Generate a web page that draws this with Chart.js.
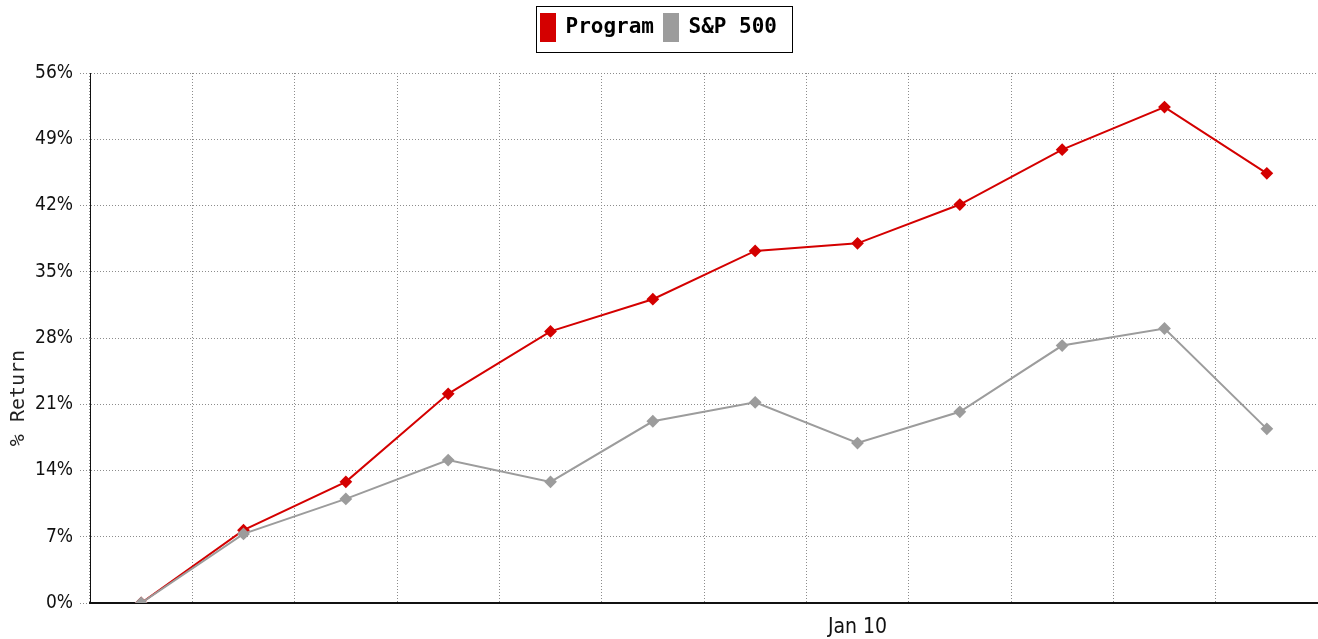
<!DOCTYPE html>
<html>
<head>
<meta charset="utf-8">
<title>Program vs S&amp;P 500</title>
<script src="https://cdn.jsdelivr.net/npm/chart.js@4/dist/chart.umd.min.js"></script>
<style>
    html, body { margin: 0; padding: 0; background: #fff; overflow: hidden; }
    #wrap { width: 1318px; height: 639px; position: relative; }
    canvas { display: block; }
</style>
</head>
<body>
<div id="wrap"><canvas id="returnChart"></canvas></div>
<script>
// Monthly cumulative return, Jun 09 .. May 10
const months = ['Jun 09', 'Jul 09', 'Aug 09', 'Sep 09', 'Oct 09', 'Nov 09',
                'Dec 09', 'Jan 10', 'Feb 10', 'Mar 10', 'Apr 10', 'May 10'];
const programReturn = [0, 7.7, 12.8, 22.1, 28.7, 32.1, 37.2, 38.0, 42.1, 47.9, 52.4, 45.4];
const sp500Return = [0, 7.3, 11.0, 15.1, 12.8, 19.2, 21.2, 16.9, 20.2, 27.2, 29.0, 18.4];
const yTicks = [0, 7, 14, 21, 28, 35, 42, 49, 56];

const RED = '#d40000';
const GREY = '#9c9c9c';
const GRID = '#8c8c8c';
const narrowFont = "'DejaVu Sans Condensed', 'DejaVu Sans', sans-serif";
const monoFont = "'DejaVu Sans Mono', 'Liberation Mono', monospace";

// extra room under the legend so the plot starts where the original does
const legendSpace = {
    id: 'legendSpace',
    beforeInit(chart) {
        const fit = chart.legend.fit;
        chart.legend.fit = function () {
            fit.call(this);
            this.height += 22;
        };
    }
};

// framed legend + rotated y title
const decorations = {
    id: 'decorations',
    afterDraw(chart) {
        const ctx = chart.ctx;
        const boxes = chart.legend.legendHitBoxes;
        if (boxes && boxes.length) {
            let l = Infinity, r = -Infinity, t = Infinity, b = -Infinity;
            boxes.forEach(h => {
                l = Math.min(l, h.left); r = Math.max(r, h.left + h.width);
                t = Math.min(t, h.top); b = Math.max(b, h.top + h.height);
            });
            ctx.save();
            ctx.strokeStyle = '#000';
            ctx.lineWidth = 1;
            ctx.strokeRect(Math.round(l - 5) + 0.5, Math.round(t - 8) + 0.5,
                           Math.round(r - l + 20), Math.round(b - t + 19));
            ctx.restore();
        }
        ctx.save();
        ctx.translate(19, 398);
        ctx.rotate(-Math.PI / 2);
        ctx.font = '20px ' + monoFont;
        ctx.fillStyle = '#222';
        ctx.textAlign = 'center';
        ctx.textBaseline = 'middle';
        ctx.fillText('% Return', 0, 0);
        ctx.restore();
    }
};

new Chart(document.getElementById('returnChart'), {
    type: 'line',
    data: {
        labels: months,
        datasets: [{
            label: 'Program',
            data: programReturn,
            borderColor: RED,
            backgroundColor: RED,
            borderWidth: 2,
            pointStyle: 'rectRot',
            pointRadius: 5,
            pointBackgroundColor: RED,
            pointBorderColor: RED,
            tension: 0,
            order: 1
        }, {
            label: 'S&P 500',
            data: sp500Return,
            borderColor: GREY,
            backgroundColor: GREY,
            borderWidth: 2,
            pointStyle: 'rectRot',
            pointRadius: 5,
            pointBackgroundColor: GREY,
            pointBorderColor: GREY,
            tension: 0,
            order: 0
        }]
    },
    options: {
        responsive: true,
        maintainAspectRatio: false,
        animation: false,
        layout: { autoPadding: false, padding: { top: 4, left: 0, right: 0, bottom: 0 } },
        plugins: {
            tooltip: { enabled: false },
            legend: {
                position: 'top',
                labels: {
                    sort: (a, b) => a.datasetIndex - b.datasetIndex,
                    boxWidth: 14,
                    boxHeight: 27,
                    padding: 10,
                    color: '#000',
                    font: { family: monoFont, size: 21, weight: 'bold' }
                }
            }
        },
        scales: {
            x: {
                offset: true,
                grid: {
                    offset: true,
                    color: GRID,
                    drawTicks: false
                },
                border: { display: true, color: '#111', width: 2, dash: [1, 2] },
                ticks: {
                    autoSkip: false,
                    maxRotation: 0,
                    padding: 12,
                    color: '#111',
                    font: { family: narrowFont, size: 21 },
                    callback: function (value) {
                        const lbl = this.getLabelForValue(value);
                        return lbl.startsWith('Jan') ? lbl : '';
                    }
                },
                afterFit(scale) { scale.height = 36; }
            },
            y: {
                min: 0,
                max: 56,
                afterBuildTicks(scale) {
                    scale.ticks = yTicks.map(v => ({ value: v }));
                },
                grid: {
                    color: GRID,
                    tickLength: 10,
                    tickColor: GRID,
                    tickBorderDash: [1, 2]
                },
                border: { display: true, color: '#111', width: 1, dash: [1, 2] },
                ticks: {
                    padding: 7,
                    color: '#111',
                    font: { family: narrowFont, size: 19 },
                    callback: v => v + '%'
                },
                afterFit(scale) { scale.width = 90; }
            }
        }
    },
    plugins: [legendSpace, decorations]
});
</script>
</body>
</html>
